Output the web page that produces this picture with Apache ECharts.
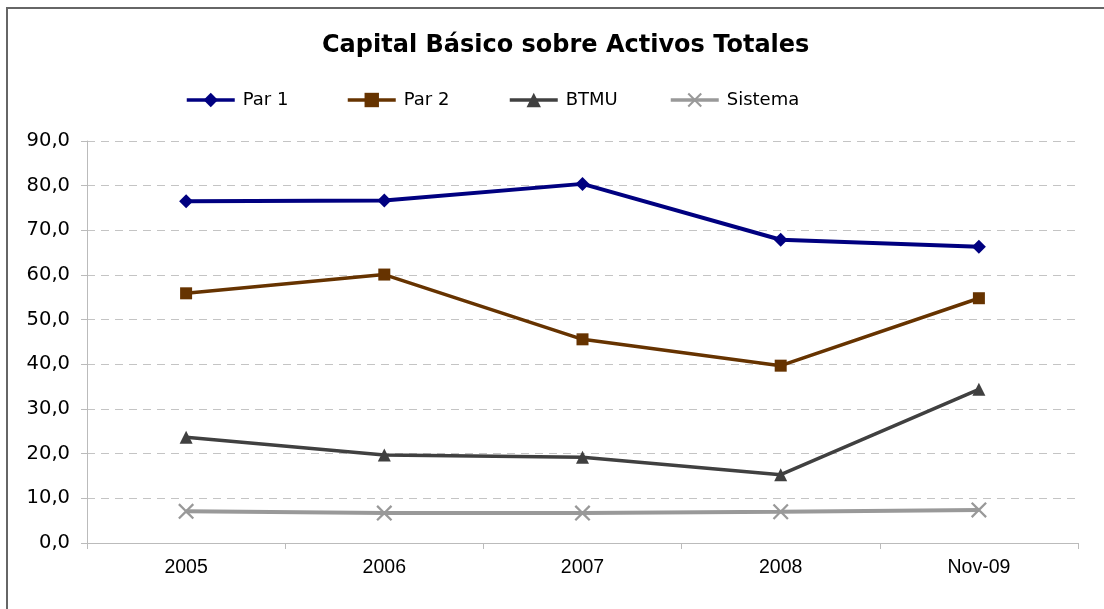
<!DOCTYPE html>
<html lang="es">
<head>
    <meta charset="UTF-8">
    <title>Capital Básico sobre Activos Totales</title>
    <style>
        html, body { margin: 0; padding: 0; background: #fff; }
        #chart { width: 1104px; height: 609px; }
    </style>
</head>
<body>
    <div id="chart"></div>
<script src="https://cdn.jsdelivr.net/npm/echarts@6/dist/echarts.min.js"></script>
<script>
    // datos
    const categories = ['2005', '2006', '2007', '2008', 'Nov-09']
    const par1 = [76.5, 76.7, 80.4, 67.9, 66.3]
    const par2 = [55.9, 60.1, 45.6, 39.7, 54.8]
    const btmu = [23.7, 19.7, 19.2, 15.3, 34.4]
    const sistema = [7.1, 6.7, 6.7, 7.0, 7.4]
    const yTicks = [0, 10, 20, 30, 40, 50, 60, 70, 80, 90]
    const seriesNames = ['Par 1', 'Par 2', 'BTMU', 'Sistema']

    const crossPath = 'path://M0,1 L1,0 L5,4 L9,0 L10,1 L6,5 L10,9 L9,10 L5,6 L1,10 L0,9 L4,5 Z'

    const chart = echarts.init(document.getElementById('chart'))

    function serie(name, data, color, symbol, size, width) {
        return {
            name,
            type: 'line',
            data,
            symbol,
            symbolSize: size,
            showAllSymbol: true,
            lineStyle: { color, width },
            itemStyle: { color },
            emphasis: { disabled: true },
            animation: false
        }
    }

    // una leyenda por serie, para colocar cada una como en el original
    const legendLeft = [185, 346, 508, 669]
    const legends = seriesNames.map((name, i) => ({
        data: [name],
        top: 91,
        left: legendLeft[i],
        padding: 0,
        itemWidth: 48,
        itemHeight: 18,
        lineStyle: { width: 3.5 },
        textStyle: { fontFamily: 'DejaVu Sans', fontSize: 18, color: '#000', padding: [0, 0, 0, 3] }
    }))

    chart.setOption({
        animation: false,
        backgroundColor: '#fff',
        title: {
            text: 'Capital Básico sobre Activos Totales',
            left: 317,
            top: 29,
            textStyle: { fontFamily: 'DejaVu Sans', fontWeight: 'bold', fontSize: 24, color: '#000' }
        },
        legend: legends,
        grid: { left: 87, right: 26, top: 141, bottom: 66 },
        xAxis: {
            type: 'category',
            data: categories,
            boundaryGap: true,
            axisLine: { lineStyle: { color: '#bbbbbb', width: 1 } },
            axisTick: { show: true, length: 6, lineStyle: { color: '#bbbbbb' } },
            axisLabel: { fontFamily: 'Liberation Sans', fontSize: 19.5, color: '#000', margin: 15 }
        },
        yAxis: {
            type: 'value',
            min: yTicks[0],
            max: yTicks[yTicks.length - 1],
            interval: 10,
            axisLine: { show: true, lineStyle: { color: '#bbbbbb', width: 1 } },
            axisTick: { show: true, length: 6, lineStyle: { color: '#bbbbbb' } },
            axisLabel: {
                fontFamily: 'DejaVu Sans',
                fontSize: 19.5,
                color: '#000',
                margin: 17,
                formatter: v => v.toFixed(1).replace('.', ',')
            },
            splitLine: { lineStyle: { color: '#c4c4c4', type: [8, 6], width: 1 } }
        },
        graphic: [{
            type: 'rect',
            shape: { x: 7, y: 8, width: 1200, height: 700 },
            style: { fill: 'none', stroke: '#666666', lineWidth: 2 },
            silent: true
        }],
        series: [
            serie('Par 1', par1, '#000080', 'diamond', 14, 4),
            serie('Par 2', par2, '#663300', 'rect', 12, 3.5),
            serie('BTMU', btmu, '#404040', 'triangle', 13, 3.5),
            serie('Sistema', sistema, '#999999', crossPath, 16, 4)
        ]
    })
</script>
</body>
</html>
